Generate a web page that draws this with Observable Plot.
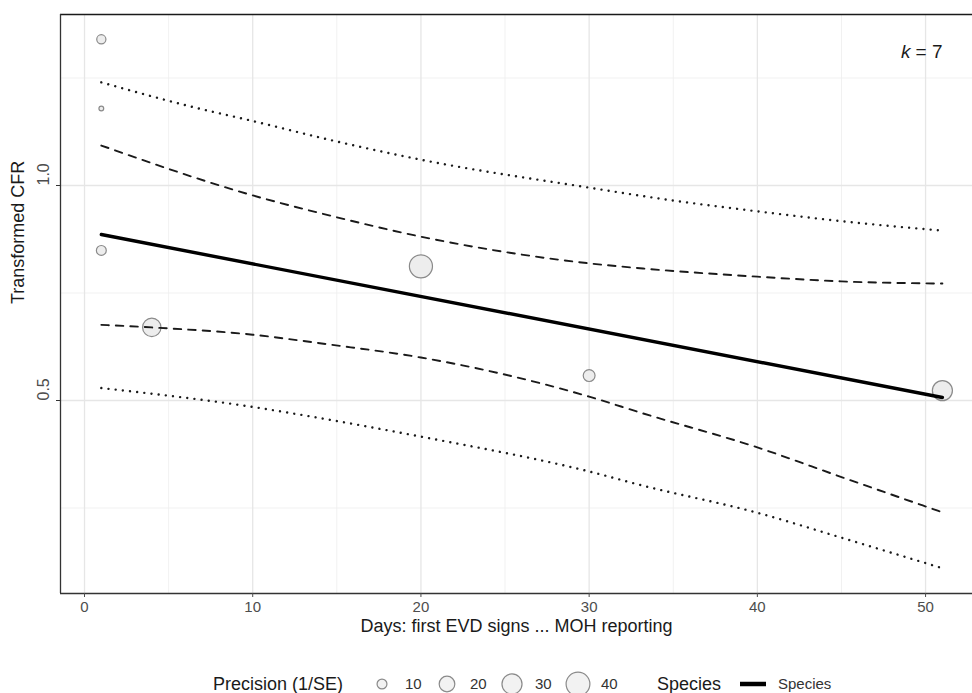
<!DOCTYPE html>
<html><head><meta charset="utf-8">
<script src="https://cdn.jsdelivr.net/npm/d3@7"></script>
<script src="https://cdn.jsdelivr.net/npm/@observablehq/plot@0.6"></script>
<style>
body{margin:0;background:#fff;font-family:"Liberation Sans",Arial,sans-serif;}
#chart svg{display:block;}
</style></head><body><div id="chart"></div><script>
// Studies (bubbles)
const days = [1, 1, 1, 4, 20, 30, 51];
const cfr = [1.34, 1.179, 0.849, 0.670, 0.812, 0.558, 0.523];
const precision = [9, 4, 10, 26, 38, 13, 30];
// Fitted meta-regression line
const fitDays = [1, 51];
const fitCfr = [0.886, 0.507];
// Confidence interval (dashed)
const ciUpDays = [1, 10, 14.6, 20, 30, 33.2, 40, 45, 51];
const ciUpper = [1.093, 0.977, 0.930, 0.881, 0.819, 0.807, 0.788, 0.777, 0.772];
const ciLoDays = [1, 4, 10, 14.6, 20, 30, 33.2, 40, 45, 51];
const ciLower = [0.676, 0.670, 0.653, 0.630, 0.600, 0.509, 0.470, 0.391, 0.322, 0.240];
// Prediction interval (dotted)
const piUpDays = [1, 6.6, 10, 14.6, 20, 30, 35, 40, 45, 51];
const piUpper = [1.240, 1.181, 1.150, 1.106, 1.060, 0.995, 0.965, 0.940, 0.917, 0.895];
const piLoDays = [1, 10, 14.6, 20, 30, 33.2, 40, 45, 51];
const piLower = [0.529, 0.485, 0.455, 0.416, 0.335, 0.302, 0.239, 0.181, 0.110];
// Axes / legend
const xTicks = [0, 10, 20, 30, 40, 50];
const xMinor = [5, 15, 25, 35, 45];
const yTicks = [0.5, 1.0];
const yMinor = [0.25, 0.75, 1.25];
const legendPrecision = [10, 20, 30, 40];
const kLabel = "7";

const zip = (xs, ys) => xs.map((x, i) => ({x, y: ys[i]}));
const studies = days.map((d, i) => ({x: d, y: cfr[i], p: precision[i]}));
const xDomain = [-1.427, 52.79];
const yDomain = [0.0512, 1.3977];
const FONT = '"Liberation Sans", Arial, sans-serif';
const dotted = {x: "x", y: "y", curve: "monotone-x", stroke: "#1a1a1a", strokeWidth: 2.4, strokeDasharray: "0.01,7.2", strokeLinecap: "round"};
const dashed = {x: "x", y: "y", curve: "monotone-x", stroke: "#1a1a1a", strokeWidth: 1.9, strokeDasharray: "7.5,7"};

const plot = Plot.plot({
  width: 972, height: 655,
  marginTop: 14, marginLeft: 60, marginRight: 0, marginBottom: 62,
  x: {domain: xDomain},
  y: {domain: yDomain},
  r: {type: "pow", exponent: 0.5, domain: [0.83, 40], range: [0, 11.9]},
  style: {fontFamily: FONT, background: "#fff", overflow: "visible"},
  marks: [
    Plot.ruleX(xMinor, {stroke: "#efefef", strokeWidth: 0.9}),
    Plot.ruleY(yMinor, {stroke: "#efefef", strokeWidth: 0.9}),
    Plot.ruleX(xTicks, {stroke: "#e6e6e6", strokeWidth: 1.3}),
    Plot.ruleY(yTicks, {stroke: "#e6e6e6", strokeWidth: 1.3}),
    Plot.dot(studies, {x: "x", y: "y", r: "p", fill: "#ededed", stroke: "#8a8a8a", strokeWidth: 1.2}),
    Plot.line(zip(piUpDays, piUpper), dotted),
    Plot.line(zip(piLoDays, piLower), dotted),
    Plot.line(zip(ciUpDays, ciUpper), dashed),
    Plot.line(zip(ciLoDays, ciLower), dashed),
    Plot.line(zip(fitDays, fitCfr), {x: "x", y: "y", stroke: "#000", strokeWidth: 3.4}),
    Plot.ruleY([yDomain[1]], {stroke: "#1a1a1a", strokeWidth: 1.6}),
    Plot.ruleX([xDomain[0]], {stroke: "#333", strokeWidth: 1.3}),
    Plot.ruleY([yDomain[0]], {stroke: "#333", strokeWidth: 1.3}),
    Plot.axisX({ticks: xTicks, tickSize: 4, tickPadding: 4, fontSize: 15, color: "#4d4d4d", label: null}),
    Plot.axisY({ticks: yTicks, tickSize: 4, tickFormat: () => "", color: "#333", label: null}),
    Plot.text(yTicks, {y: d => d, text: d => d.toFixed(1), frameAnchor: "left", dx: -17, rotate: -90, fontSize: 16, fill: "#4d4d4d"}),
    Plot.text(["Transformed CFR"], {frameAnchor: "left", dx: -42, rotate: -90, fontSize: 18, fill: "#1a1a1a"}),
    Plot.text(["Days: first EVD signs ... MOH reporting"], {frameAnchor: "bottom", dy: 38, fontSize: 18, fill: "#1a1a1a"}),
    Plot.text(["k"], {frameAnchor: "top-right", dx: -62, dy: 30, textAnchor: "end", fontSize: 19, fontStyle: "italic", fill: "#1a1a1a"}),
    Plot.text(["= " + kLabel], {frameAnchor: "top-right", dx: -30, dy: 30, textAnchor: "end", fontSize: 19, fill: "#1a1a1a"})
  ]
});
document.getElementById("chart").appendChild(plot);

// Legend below the plot
const rScale = plot.scale("r");
const lg = d3.create("svg").attr("width", 972).attr("height", 38)
  .style("font-family", FONT).style("display", "block");
const cy = 29;
lg.append("text").attr("x", 213).attr("y", cy).attr("dy", "0.35em")
  .attr("font-size", 18).attr("fill", "#1a1a1a").text("Precision (1/SE)");
const cxs = [382, 447, 512, 578];
legendPrecision.forEach((v, i) => {
  lg.append("circle").attr("cx", cxs[i]).attr("cy", cy).attr("r", rScale.apply(v))
    .attr("fill", "#f2f2f2").attr("stroke", "#8a8a8a").attr("stroke-width", 1.2);
  lg.append("text").attr("x", cxs[i] + 23).attr("y", cy).attr("dy", "0.35em")
    .attr("font-size", 15).attr("fill", "#333").text(String(v));
});
lg.append("text").attr("x", 657).attr("y", cy).attr("dy", "0.35em")
  .attr("font-size", 18).attr("fill", "#1a1a1a").text("Species");
lg.append("line").attr("x1", 740).attr("x2", 766).attr("y1", cy).attr("y2", cy)
  .attr("stroke", "#000").attr("stroke-width", 4.5);
lg.append("text").attr("x", 778).attr("y", cy).attr("dy", "0.35em")
  .attr("font-size", 15).attr("fill", "#333").text("Species");
document.getElementById("chart").appendChild(lg.node());
</script></body></html>
